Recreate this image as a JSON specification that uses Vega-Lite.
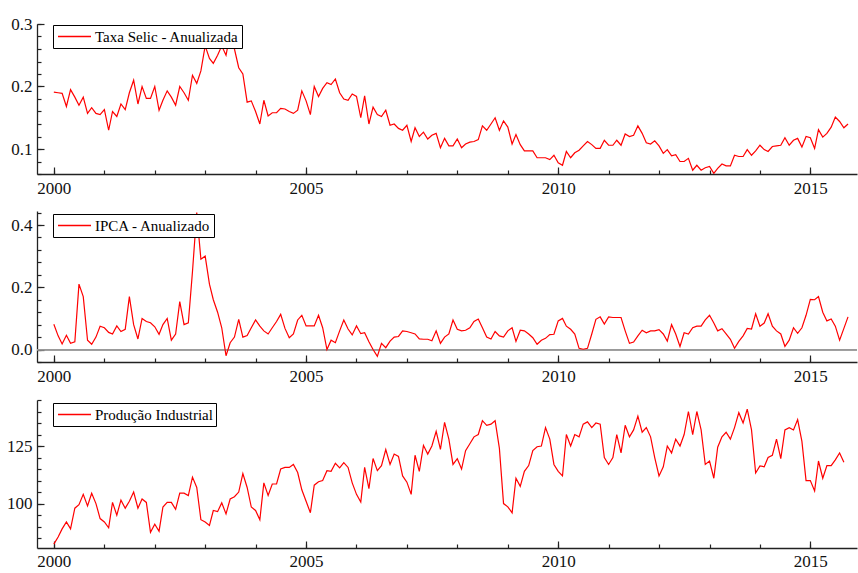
{
"$schema":"https://vega.github.io/schema/vega-lite/v6.json",
"background":"white",
"padding":{"left":6,"top":15,"right":0,"bottom":0},
"config":{
 "view":{"stroke":null},
 "concat":{"spacing":15},
 "axis":{"domainColor":"#222","domainWidth":1.3,"tickColor":"#222","tickWidth":1.2,"labelColor":"#111","labelFont":"Liberation Serif","labelFontSize":17,"grid":false,"labelFlush":false,"labelOverlap":false,"title":null},
 "legend":{"strokeColor":"black","fillColor":"white","padding":3,"symbolType":"M-2.2,0H2.2","symbolSize":225,"symbolStrokeWidth":1.5,"symbolOffset":10,"labelFont":"Liberation Serif","labelFontSize":15,"labelColor":"black","labelOffset":12,"cornerRadius":0}
},
"datasets":{"m":[
{"d":"2000-01-01","s":0.191,"i":0.081,"p":82.4},
{"d":"2000-02-01","s":0.190,"i":0.044,"p":85.5},
{"d":"2000-03-01","s":0.189,"i":0.018,"p":89},
{"d":"2000-04-01","s":0.168,"i":0.046,"p":92},
{"d":"2000-05-01","s":0.195,"i":0.020,"p":89},
{"d":"2000-06-01","s":0.183,"i":0.025,"p":98},
{"d":"2000-07-01","s":0.170,"i":0.210,"p":99.5},
{"d":"2000-08-01","s":0.183,"i":0.170,"p":104},
{"d":"2000-09-01","s":0.157,"i":0.030,"p":99},
{"d":"2000-10-01","s":0.166,"i":0.017,"p":104.5},
{"d":"2000-11-01","s":0.157,"i":0.040,"p":100},
{"d":"2000-12-01","s":0.155,"i":0.075,"p":93.5},
{"d":"2001-01-01","s":0.163,"i":0.070,"p":92},
{"d":"2001-02-01","s":0.130,"i":0.055,"p":89.5},
{"d":"2001-03-01","s":0.160,"i":0.050,"p":100.5},
{"d":"2001-04-01","s":0.152,"i":0.076,"p":95},
{"d":"2001-05-01","s":0.172,"i":0.058,"p":101.5},
{"d":"2001-06-01","s":0.163,"i":0.065,"p":98},
{"d":"2001-07-01","s":0.190,"i":0.170,"p":101},
{"d":"2001-08-01","s":0.210,"i":0.080,"p":105},
{"d":"2001-09-01","s":0.172,"i":0.034,"p":98},
{"d":"2001-10-01","s":0.200,"i":0.100,"p":102},
{"d":"2001-11-01","s":0.181,"i":0.090,"p":100.5},
{"d":"2001-12-01","s":0.181,"i":0.086,"p":87.5},
{"d":"2002-01-01","s":0.200,"i":0.073,"p":91},
{"d":"2002-02-01","s":0.162,"i":0.049,"p":88},
{"d":"2002-03-01","s":0.178,"i":0.080,"p":98.5},
{"d":"2002-04-01","s":0.193,"i":0.100,"p":100.5},
{"d":"2002-05-01","s":0.183,"i":0.030,"p":100.5},
{"d":"2002-06-01","s":0.170,"i":0.050,"p":97.5},
{"d":"2002-07-01","s":0.200,"i":0.154,"p":104.5},
{"d":"2002-08-01","s":0.190,"i":0.080,"p":104.5},
{"d":"2002-09-01","s":0.178,"i":0.086,"p":103.5},
{"d":"2002-10-01","s":0.218,"i":0.250,"p":111.5},
{"d":"2002-11-01","s":0.205,"i":0.440,"p":107},
{"d":"2002-12-01","s":0.225,"i":0.290,"p":93},
{"d":"2003-01-01","s":0.265,"i":0.300,"p":92},
{"d":"2003-02-01","s":0.245,"i":0.210,"p":90.5},
{"d":"2003-03-01","s":0.237,"i":0.160,"p":97},
{"d":"2003-04-01","s":0.250,"i":0.120,"p":96.5},
{"d":"2003-05-01","s":0.265,"i":0.070,"p":100.3},
{"d":"2003-06-01","s":0.250,"i":-0.020,"p":95.5},
{"d":"2003-07-01","s":0.285,"i":0.022,"p":102},
{"d":"2003-08-01","s":0.260,"i":0.040,"p":103},
{"d":"2003-09-01","s":0.230,"i":0.097,"p":105},
{"d":"2003-10-01","s":0.220,"i":0.040,"p":113},
{"d":"2003-11-01","s":0.175,"i":0.045,"p":107},
{"d":"2003-12-01","s":0.177,"i":0.070,"p":98.5},
{"d":"2004-01-01","s":0.160,"i":0.095,"p":97},
{"d":"2004-02-01","s":0.140,"i":0.075,"p":93},
{"d":"2004-03-01","s":0.178,"i":0.060,"p":109},
{"d":"2004-04-01","s":0.153,"i":0.050,"p":103.5},
{"d":"2004-05-01","s":0.158,"i":0.070,"p":108.5},
{"d":"2004-06-01","s":0.158,"i":0.090,"p":108.5},
{"d":"2004-07-01","s":0.165,"i":0.113,"p":115},
{"d":"2004-08-01","s":0.164,"i":0.068,"p":115.7},
{"d":"2004-09-01","s":0.160,"i":0.038,"p":115.7},
{"d":"2004-10-01","s":0.157,"i":0.050,"p":117},
{"d":"2004-11-01","s":0.162,"i":0.095,"p":113.5},
{"d":"2004-12-01","s":0.193,"i":0.110,"p":106},
{"d":"2005-01-01","s":0.177,"i":0.076,"p":101},
{"d":"2005-02-01","s":0.155,"i":0.076,"p":96},
{"d":"2005-03-01","s":0.200,"i":0.076,"p":108},
{"d":"2005-04-01","s":0.184,"i":0.110,"p":109.5},
{"d":"2005-05-01","s":0.197,"i":0.070,"p":110},
{"d":"2005-06-01","s":0.206,"i":0.000,"p":114.3},
{"d":"2005-07-01","s":0.203,"i":0.030,"p":114},
{"d":"2005-08-01","s":0.212,"i":0.022,"p":117.5},
{"d":"2005-09-01","s":0.190,"i":0.060,"p":115.5},
{"d":"2005-10-01","s":0.180,"i":0.095,"p":117.8},
{"d":"2005-11-01","s":0.178,"i":0.066,"p":115.7},
{"d":"2005-12-01","s":0.188,"i":0.047,"p":109},
{"d":"2006-01-01","s":0.184,"i":0.076,"p":104},
{"d":"2006-02-01","s":0.150,"i":0.051,"p":100.7},
{"d":"2006-03-01","s":0.185,"i":0.054,"p":115.7},
{"d":"2006-04-01","s":0.140,"i":0.025,"p":106.5},
{"d":"2006-05-01","s":0.167,"i":0.000,"p":119.6},
{"d":"2006-06-01","s":0.155,"i":-0.022,"p":114.3},
{"d":"2006-07-01","s":0.152,"i":0.020,"p":116.5},
{"d":"2006-08-01","s":0.162,"i":0.006,"p":123.5},
{"d":"2006-09-01","s":0.138,"i":0.027,"p":117},
{"d":"2006-10-01","s":0.140,"i":0.040,"p":121.5},
{"d":"2006-11-01","s":0.133,"i":0.042,"p":120.5},
{"d":"2006-12-01","s":0.130,"i":0.060,"p":112},
{"d":"2007-01-01","s":0.138,"i":0.058,"p":109.3},
{"d":"2007-02-01","s":0.112,"i":0.054,"p":104},
{"d":"2007-03-01","s":0.134,"i":0.050,"p":121},
{"d":"2007-04-01","s":0.120,"i":0.034,"p":114},
{"d":"2007-05-01","s":0.127,"i":0.033,"p":125.3},
{"d":"2007-06-01","s":0.116,"i":0.033,"p":121.5},
{"d":"2007-07-01","s":0.122,"i":0.028,"p":125},
{"d":"2007-08-01","s":0.125,"i":0.060,"p":131.4},
{"d":"2007-09-01","s":0.102,"i":0.020,"p":123.5},
{"d":"2007-10-01","s":0.117,"i":0.040,"p":135.3},
{"d":"2007-11-01","s":0.105,"i":0.050,"p":128},
{"d":"2007-12-01","s":0.105,"i":0.095,"p":117},
{"d":"2008-01-01","s":0.116,"i":0.065,"p":119.5},
{"d":"2008-02-01","s":0.102,"i":0.060,"p":115},
{"d":"2008-03-01","s":0.108,"i":0.062,"p":123},
{"d":"2008-04-01","s":0.111,"i":0.070,"p":126},
{"d":"2008-05-01","s":0.112,"i":0.090,"p":129},
{"d":"2008-06-01","s":0.115,"i":0.098,"p":130},
{"d":"2008-07-01","s":0.137,"i":0.070,"p":136},
{"d":"2008-08-01","s":0.130,"i":0.040,"p":134},
{"d":"2008-09-01","s":0.140,"i":0.034,"p":134.5},
{"d":"2008-10-01","s":0.150,"i":0.058,"p":136},
{"d":"2008-11-01","s":0.130,"i":0.044,"p":124},
{"d":"2008-12-01","s":0.145,"i":0.040,"p":100},
{"d":"2009-01-01","s":0.135,"i":0.060,"p":98.6},
{"d":"2009-02-01","s":0.108,"i":0.070,"p":96},
{"d":"2009-03-01","s":0.123,"i":0.026,"p":111},
{"d":"2009-04-01","s":0.107,"i":0.062,"p":107.5},
{"d":"2009-05-01","s":0.097,"i":0.060,"p":114},
{"d":"2009-06-01","s":0.097,"i":0.050,"p":116.5},
{"d":"2009-07-01","s":0.097,"i":0.038,"p":123},
{"d":"2009-08-01","s":0.086,"i":0.017,"p":124.7},
{"d":"2009-09-01","s":0.086,"i":0.030,"p":125},
{"d":"2009-10-01","s":0.086,"i":0.036,"p":133},
{"d":"2009-11-01","s":0.083,"i":0.048,"p":128},
{"d":"2009-12-01","s":0.090,"i":0.049,"p":117},
{"d":"2010-01-01","s":0.078,"i":0.092,"p":114},
{"d":"2010-02-01","s":0.074,"i":0.100,"p":112},
{"d":"2010-03-01","s":0.096,"i":0.075,"p":130},
{"d":"2010-04-01","s":0.086,"i":0.065,"p":125},
{"d":"2010-05-01","s":0.094,"i":0.050,"p":130},
{"d":"2010-06-01","s":0.098,"i":0.004,"p":129},
{"d":"2010-07-01","s":0.105,"i":0.001,"p":134.5},
{"d":"2010-08-01","s":0.112,"i":0.004,"p":135.5},
{"d":"2010-09-01","s":0.107,"i":0.050,"p":133},
{"d":"2010-10-01","s":0.101,"i":0.097,"p":135},
{"d":"2010-11-01","s":0.101,"i":0.105,"p":134.5},
{"d":"2010-12-01","s":0.114,"i":0.082,"p":120},
{"d":"2011-01-01","s":0.106,"i":0.105,"p":117},
{"d":"2011-02-01","s":0.106,"i":0.103,"p":120},
{"d":"2011-03-01","s":0.114,"i":0.103,"p":130},
{"d":"2011-04-01","s":0.106,"i":0.103,"p":122},
{"d":"2011-05-01","s":0.124,"i":0.060,"p":134},
{"d":"2011-06-01","s":0.120,"i":0.020,"p":129},
{"d":"2011-07-01","s":0.122,"i":0.024,"p":132},
{"d":"2011-08-01","s":0.137,"i":0.044,"p":138},
{"d":"2011-09-01","s":0.125,"i":0.062,"p":131},
{"d":"2011-10-01","s":0.110,"i":0.054,"p":133},
{"d":"2011-11-01","s":0.108,"i":0.060,"p":129},
{"d":"2011-12-01","s":0.113,"i":0.060,"p":120},
{"d":"2012-01-01","s":0.105,"i":0.064,"p":112},
{"d":"2012-02-01","s":0.093,"i":0.050,"p":116},
{"d":"2012-03-01","s":0.099,"i":0.027,"p":125},
{"d":"2012-04-01","s":0.089,"i":0.080,"p":122},
{"d":"2012-05-01","s":0.091,"i":0.050,"p":128},
{"d":"2012-06-01","s":0.080,"i":0.010,"p":125},
{"d":"2012-07-01","s":0.080,"i":0.054,"p":130},
{"d":"2012-08-01","s":0.085,"i":0.050,"p":140},
{"d":"2012-09-01","s":0.066,"i":0.070,"p":130},
{"d":"2012-10-01","s":0.074,"i":0.075,"p":140},
{"d":"2012-11-01","s":0.066,"i":0.075,"p":132},
{"d":"2012-12-01","s":0.070,"i":0.095,"p":117},
{"d":"2013-01-01","s":0.072,"i":0.110,"p":118.5},
{"d":"2013-02-01","s":0.061,"i":0.085,"p":111},
{"d":"2013-03-01","s":0.069,"i":0.060,"p":124.5},
{"d":"2013-04-01","s":0.076,"i":0.067,"p":129},
{"d":"2013-05-01","s":0.073,"i":0.050,"p":131},
{"d":"2013-06-01","s":0.073,"i":0.033,"p":128},
{"d":"2013-07-01","s":0.090,"i":0.004,"p":133},
{"d":"2013-08-01","s":0.088,"i":0.026,"p":139.5},
{"d":"2013-09-01","s":0.088,"i":0.044,"p":135},
{"d":"2013-10-01","s":0.099,"i":0.068,"p":141},
{"d":"2013-11-01","s":0.090,"i":0.066,"p":132},
{"d":"2013-12-01","s":0.097,"i":0.115,"p":113.3},
{"d":"2014-01-01","s":0.106,"i":0.075,"p":116.4},
{"d":"2014-02-01","s":0.099,"i":0.085,"p":116},
{"d":"2014-03-01","s":0.096,"i":0.115,"p":120},
{"d":"2014-04-01","s":0.104,"i":0.075,"p":121},
{"d":"2014-05-01","s":0.105,"i":0.060,"p":128},
{"d":"2014-06-01","s":0.106,"i":0.050,"p":119.5},
{"d":"2014-07-01","s":0.118,"i":0.010,"p":132},
{"d":"2014-08-01","s":0.106,"i":0.030,"p":133},
{"d":"2014-09-01","s":0.114,"i":0.070,"p":132},
{"d":"2014-10-01","s":0.117,"i":0.052,"p":136.5},
{"d":"2014-11-01","s":0.103,"i":0.070,"p":127},
{"d":"2014-12-01","s":0.120,"i":0.110,"p":110},
{"d":"2015-01-01","s":0.118,"i":0.161,"p":110},
{"d":"2015-02-01","s":0.101,"i":0.160,"p":105.5},
{"d":"2015-03-01","s":0.131,"i":0.170,"p":118.5},
{"d":"2015-04-01","s":0.119,"i":0.120,"p":111},
{"d":"2015-05-01","s":0.125,"i":0.092,"p":116.5},
{"d":"2015-06-01","s":0.135,"i":0.098,"p":116.5},
{"d":"2015-07-01","s":0.151,"i":0.075,"p":119},
{"d":"2015-08-01","s":0.144,"i":0.030,"p":122},
{"d":"2015-09-01","s":0.134,"i":0.068,"p":118},
{"d":"2015-10-01","s":0.140,"i":0.105,"p":null}
]},
"vconcat":[
{
 "width":820,"height":150,
 "data":{"name":"m"},
 "layer":[
  {"mark":{"type":"line","strokeWidth":1.2,"clip":true},
   "encoding":{
    "x":{"field":"d","type":"temporal",
     "scale":{"type":"utc","domain":[{"year":1999,"month":9,"date":1,"utc":true},{"year":2015,"month":12,"date":5,"utc":true}]},
     "axis":{"orient":"bottom","labels":false,"tickSize":-4,"values":[{"year":2000,"utc":true},{"year":2001,"utc":true},{"year":2002,"utc":true},{"year":2003,"utc":true},{"year":2004,"utc":true},{"year":2005,"utc":true},{"year":2006,"utc":true},{"year":2007,"utc":true},{"year":2008,"utc":true},{"year":2009,"utc":true},{"year":2010,"utc":true},{"year":2011,"utc":true},{"year":2012,"utc":true},{"year":2013,"utc":true},{"year":2014,"utc":true},{"year":2015,"utc":true}]}},
    "y":{"field":"s","type":"quantitative",
     "scale":{"domain":[0.06,0.3],"zero":false,"nice":false},
     "axis":{"orient":"left","labels":false,"tickSize":-4,"values":[0.06,0.08,0.1,0.12,0.14,0.16,0.18,0.2,0.22,0.24,0.26,0.28,0.3]}},
    "color":{"datum":"Taxa Selic - Anualizada","scale":{"range":["#ff0000"]},"legend":{"title":null,"orient":"none","legendX":16,"legendY":1}}
   }},
  {"mark":{"type":"line","opacity":0},
   "encoding":{
    "x":{"field":"d","type":"temporal",
     "scale":{"type":"utc","domain":[{"year":1999,"month":9,"date":1,"utc":true},{"year":2015,"month":12,"date":5,"utc":true}]},
     "axis":{"orient":"bottom","domain":false,"tickSize":-7,"labelPadding":13,"labelExpr":"utcFormat(datum.value, '%Y')","values":[{"year":2000,"utc":true},{"year":2005,"utc":true},{"year":2010,"utc":true},{"year":2015,"utc":true}]}},
    "y":{"field":"s","type":"quantitative",
     "scale":{"domain":[0.06,0.3],"zero":false,"nice":false},
     "axis":{"orient":"left","domain":false,"tickSize":-7,"labelPadding":12,"format":".1f","values":[0.1,0.2,0.3]}}
   }}
 ],
 "resolve":{"axis":{"x":"independent","y":"independent"}}
},
{
 "width":820,"height":151,
 "data":{"name":"m"},
 "layer":[
  {"mark":{"type":"rule","color":"#999999","strokeWidth":1},
   "encoding":{"y":{"datum":0,"type":"quantitative","axis":null}}},
  {"mark":{"type":"line","strokeWidth":1.2,"clip":true},
   "encoding":{
    "x":{"field":"d","type":"temporal",
     "scale":{"type":"utc","domain":[{"year":1999,"month":9,"date":1,"utc":true},{"year":2015,"month":12,"date":5,"utc":true}]},
     "axis":{"orient":"bottom","labels":false,"tickSize":-4,"values":[{"year":2000,"utc":true},{"year":2001,"utc":true},{"year":2002,"utc":true},{"year":2003,"utc":true},{"year":2004,"utc":true},{"year":2005,"utc":true},{"year":2006,"utc":true},{"year":2007,"utc":true},{"year":2008,"utc":true},{"year":2009,"utc":true},{"year":2010,"utc":true},{"year":2011,"utc":true},{"year":2012,"utc":true},{"year":2013,"utc":true},{"year":2014,"utc":true},{"year":2015,"utc":true}]}},
    "y":{"field":"i","type":"quantitative",
     "scale":{"domain":[-0.04,0.445],"zero":false,"nice":false},
     "axis":{"orient":"left","labels":false,"tickSize":-4,"values":[-0.04,0,0.04,0.08,0.12,0.16,0.2,0.24,0.28,0.32,0.36,0.4,0.44]}},
    "color":{"datum":"IPCA - Anualizado","scale":{"range":["#ff0000"]},"legend":{"title":null,"orient":"none","legendX":16,"legendY":3}}
   }},
  {"mark":{"type":"line","opacity":0},
   "encoding":{
    "x":{"field":"d","type":"temporal",
     "scale":{"type":"utc","domain":[{"year":1999,"month":9,"date":1,"utc":true},{"year":2015,"month":12,"date":5,"utc":true}]},
     "axis":{"orient":"bottom","domain":false,"tickSize":-7,"labelPadding":13,"labelExpr":"utcFormat(datum.value, '%Y')","values":[{"year":2000,"utc":true},{"year":2005,"utc":true},{"year":2010,"utc":true},{"year":2015,"utc":true}]}},
    "y":{"field":"i","type":"quantitative",
     "scale":{"domain":[-0.04,0.445],"zero":false,"nice":false},
     "axis":{"orient":"left","domain":false,"tickSize":-7,"labelPadding":12,"format":".1f","values":[0,0.2,0.4]}}
   }}
 ],
 "resolve":{"axis":{"x":"independent","y":"independent"}}
},
{
 "width":820,"height":148,
 "data":{"name":"m"},
 "layer":[
  {"mark":{"type":"line","strokeWidth":1.2,"clip":true},
   "encoding":{
    "x":{"field":"d","type":"temporal",
     "scale":{"type":"utc","domain":[{"year":1999,"month":9,"date":1,"utc":true},{"year":2015,"month":12,"date":5,"utc":true}]},
     "axis":{"orient":"bottom","labels":false,"tickSize":-4,"values":[{"year":2000,"utc":true},{"year":2001,"utc":true},{"year":2002,"utc":true},{"year":2003,"utc":true},{"year":2004,"utc":true},{"year":2005,"utc":true},{"year":2006,"utc":true},{"year":2007,"utc":true},{"year":2008,"utc":true},{"year":2009,"utc":true},{"year":2010,"utc":true},{"year":2011,"utc":true},{"year":2012,"utc":true},{"year":2013,"utc":true},{"year":2014,"utc":true},{"year":2015,"utc":true}]}},
    "y":{"field":"p","type":"quantitative",
     "scale":{"domain":[80.7,145],"zero":false,"nice":false},
     "axis":{"orient":"left","labels":false,"tickSize":-4,"values":[85,90,95,100,105,110,115,120,125,130,135,140,145]}},
    "color":{"datum":"Produção Industrial","scale":{"range":["#ff0000"]},"legend":{"title":null,"orient":"none","legendX":16,"legendY":3}}
   }},
  {"mark":{"type":"line","opacity":0},
   "encoding":{
    "x":{"field":"d","type":"temporal",
     "scale":{"type":"utc","domain":[{"year":1999,"month":9,"date":1,"utc":true},{"year":2015,"month":12,"date":5,"utc":true}]},
     "axis":{"orient":"bottom","domain":false,"tickSize":-7,"labelPadding":12,"labelExpr":"utcFormat(datum.value, '%Y')","values":[{"year":2000,"utc":true},{"year":2005,"utc":true},{"year":2010,"utc":true},{"year":2015,"utc":true}]}},
    "y":{"field":"p","type":"quantitative",
     "scale":{"domain":[80.7,145],"zero":false,"nice":false},
     "axis":{"orient":"left","domain":false,"tickSize":-7,"labelPadding":12,"format":"d","values":[100,125]}}
   }}
 ],
 "resolve":{"axis":{"x":"independent","y":"independent"}}
}
],
"resolve":{"scale":{"color":"independent"}}
}
